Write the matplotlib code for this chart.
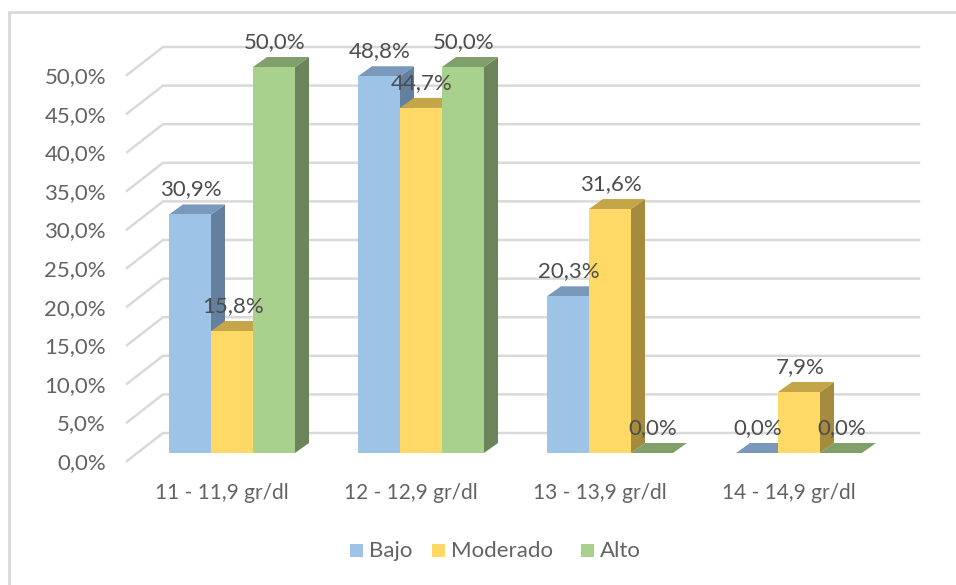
"""Grafico de barras 3D: hemoglobina por nivel."""

import matplotlib

matplotlib.use("Agg")
import matplotlib.pyplot as plt
from matplotlib.patches import Polygon, Rectangle

plt.rcParams["font.family"] = ["Lato", "DejaVu Sans"]

categories = ["11 - 11,9 gr/dl", "12 - 12,9 gr/dl", "13 - 13,9 gr/dl", "14 - 14,9 gr/dl"]
series_names = ["Bajo", "Moderado", "Alto"]
bajo = [30.9, 48.8, 20.3, 0.0]
moderado = [15.8, 44.7, 31.6, 7.9]
alto = [50.0, 50.0, 0.0, 0.0]
y_ticks = [0, 5, 10, 15, 20, 25, 30, 35, 40, 45, 50]

front_colors = ["#9DC3E6", "#FFD966", "#A9D18E"]
top_colors = ["#7A99BA", "#C4A548", "#7F9F6B"]
side_colors = ["#64809F", "#A48B3E", "#6B8459"]

# one x unit is a category slot, one y unit is one percent
PX_X = 189.0
PX_Y = 7.72
BAR_W = 42 / PX_X
DEPTH_X = 14 / PX_X
DEPTH_Y = 10 / PX_Y
FLOOR_DROP = 8 / PX_Y
BACK_X = 36 / PX_X
BACK_Y = 28 / PX_Y


def px(x, y):
    """Figure pixel position to data coordinates."""
    return (x - 232) / PX_X, (453 - y) / PX_Y


fig = plt.figure(figsize=(9.56, 5.85), dpi=100)
ax = fig.add_axes([0, 0, 1, 1])
ax.set_xlim(px(0, 0)[0], px(956, 0)[0])
ax.set_ylim(px(0, 585)[1], px(0, 0)[1])
ax.axis("off")

# chart border: only the left and top edges are inside the crop
border = [px(9, 585), px(9, 12), px(956, 12)]
ax.plot([p[0] for p in border], [p[1] for p in border], color="#D9D9D9", linewidth=2.0,
        solid_joinstyle="miter", zorder=1)

# gridlines: slanted on the left wall, flat on the back wall
left_x = px(127, 0)[0]
right_x = px(919, 0)[0]
for tick in y_ticks:
    y_front = tick - FLOOR_DROP
    y_back = y_front + BACK_Y
    ax.plot([left_x, left_x + BACK_X, right_x], [y_front, y_back, y_back],
            color="#D9D9D9", linewidth=1.8, solid_joinstyle="miter", zorder=2)
    ax.text(left_x - 21 / PX_X, y_front - 2 / PX_Y, f"{tick:.1f}".replace(".", ",") + "%",
            ha="right", va="center", fontsize=16, color="#636363", zorder=6)

for i, name in enumerate(categories):
    ax.text(i - 10 / PX_X, -40 / PX_Y, name, ha="center", va="center",
            fontsize=15, color="#636363", zorder=6)

for s, values in enumerate([bajo, moderado, alto]):
    for i, value in enumerate(values):
        x0 = i + (s - 1.5) * BAR_W
        x1 = x0 + BAR_W
        z = 3 + s * 0.1
        ax.add_patch(Polygon([(x1, 0), (x1 + DEPTH_X, DEPTH_Y), (x1 + DEPTH_X, value + DEPTH_Y), (x1, value)],
                             facecolor=side_colors[s], edgecolor="none", zorder=z))
        ax.add_patch(Polygon([(x0, value), (x0 + DEPTH_X, value + DEPTH_Y), (x1 + DEPTH_X, value + DEPTH_Y), (x1, value)],
                             facecolor=top_colors[s], edgecolor="none", zorder=z))
        ax.add_patch(Rectangle((x0, 0), BAR_W, value, facecolor=front_colors[s], edgecolor="none", zorder=z))
        label = f"{value:.1f}".replace(".", ",") + "%"
        ax.text(x0 + BAR_W / 2 + 1 / PX_X, value + 25 / PX_Y, label, ha="center", va="center",
                fontsize=16, color="#4D4D4D", zorder=7)

# legend spacing in the source is uneven, so it is placed by hand
legend_x = [350, 432, 581]
for left, name, color in zip(legend_x, series_names, front_colors):
    sx, sy = px(left, 557)
    ax.add_patch(Rectangle((sx, sy), 13.5 / PX_X, 13.5 / PX_Y, facecolor=color, edgecolor="none", zorder=6))
    tx, ty = px(left + 19, 551)
    ax.text(tx, ty, name, ha="left", va="center", fontsize=16, color="#636363", zorder=6)

fig.savefig("out.png", dpi=100)
